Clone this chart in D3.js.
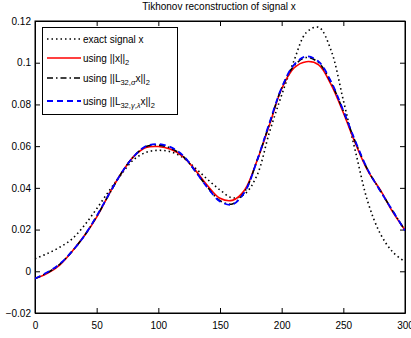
<!DOCTYPE html>
<meta charset="utf-8">
<html lang="en">
<head>
<title>Tikhonov reconstruction</title>
<script src="https://d3js.org/d3.v7.min.js"></script>
<style>
  body { margin: 0; background: #fff; }
  text { font-family: "Liberation Sans", Arial, sans-serif; fill: #000; }
</style>
</head>
<body>
<svg width="411" height="338"></svg>
<script>

// sample positions (signal index) and the four curves
var tIndex = [0, 10, 20, 30, 40, 50, 60, 70, 80, 90, 100, 110, 120, 130, 140, 150,
  160, 170, 180, 190, 200, 210, 220, 230, 240, 250, 260, 270, 280, 290, 300]

var exactSignal = [0.006, 0.0085, 0.0115, 0.0155, 0.022, 0.030, 0.0385, 0.0465, 0.0535, 0.057, 0.058,
  0.0573, 0.0545, 0.0495, 0.044, 0.039, 0.0352, 0.037, 0.046, 0.0665, 0.0845, 0.101, 0.1145,
  0.117, 0.106, 0.082, 0.057, 0.033, 0.018, 0.0093, 0.0045]

var usingNorm = [-0.0035, -0.001, 0.003, 0.0095, 0.017, 0.026, 0.037, 0.047, 0.055, 0.0593, 0.0598,
  0.0585, 0.055, 0.0485, 0.041, 0.035, 0.034, 0.039, 0.053, 0.070, 0.0875, 0.0975, 0.1005,
  0.099, 0.0896, 0.076, 0.061, 0.048, 0.039, 0.0285, 0.0198]

var usingSigma = [-0.0035, -0.0007, 0.0033, 0.0095, 0.017, 0.0263, 0.0368, 0.047, 0.055, 0.0598, 0.0605,
  0.059, 0.0552, 0.048, 0.0402, 0.0338, 0.0323, 0.0382, 0.053, 0.0705, 0.0878, 0.0985, 0.1025,
  0.100, 0.0905, 0.0768, 0.0617, 0.0484, 0.0386, 0.029, 0.0196]

var usingGamma = [-0.0035, -0.0005, 0.0035, 0.0095, 0.017, 0.0265, 0.037, 0.047, 0.055, 0.060, 0.061,
  0.0595, 0.0555, 0.048, 0.040, 0.0335, 0.032, 0.038, 0.053, 0.071, 0.088, 0.099, 0.103,
  0.1005, 0.091, 0.077, 0.062, 0.0485, 0.0385, 0.029, 0.0195]

var xTicks = [0, 50, 100, 150, 200, 250, 300]
var yTicks = [-0.02, 0, 0.02, 0.04, 0.06, 0.08, 0.1, 0.12]

var margin = { left: 35, right: 6, top: 21, bottom: 25 }
var width = 411, height = 338

var svg = d3.select('svg')

var x = d3.scaleLinear().domain([0, 300]).range([margin.left, width - margin.right])
var y = d3.scaleLinear().domain([-0.02, 0.12]).range([height - margin.bottom, margin.top])

// axes: ticks point inward, labels only on bottom / left
var xAxis = svg.append('g')
  .attr('transform', 'translate(0,' + y(-0.02) + ')')
  .call(d3.axisBottom(x).tickValues(xTicks).tickSizeInner(-5).tickSizeOuter(0).tickPadding(9)
    .tickFormat(d3.format('d')))
var yAxis = svg.append('g')
  .attr('transform', 'translate(' + x(0) + ',0)')
  .call(d3.axisLeft(y).tickValues(yTicks).tickSizeInner(-5).tickSizeOuter(0).tickPadding(4)
    .tickFormat(function (d) { return d === 0 ? '0' : d3.format('.2~f')(d) }))
svg.append('g')
  .attr('transform', 'translate(0,' + y(0.12) + ')')
  .call(d3.axisTop(x).tickValues(xTicks).tickSizeInner(-5).tickSizeOuter(0).tickFormat(''))
svg.append('g')
  .attr('transform', 'translate(' + x(300) + ',0)')
  .call(d3.axisRight(y).tickValues(yTicks).tickSizeInner(-5).tickSizeOuter(0).tickFormat(''))

svg.selectAll('.domain').attr('stroke', '#000')
svg.selectAll('.tick line').attr('stroke', '#000')
svg.selectAll('.tick text').attr('font-size', 10).attr('font-family', '"Liberation Sans", Arial, sans-serif')

svg.append('rect')
  .attr('x', x(0)).attr('y', y(0.12))
  .attr('width', x(300) - x(0)).attr('height', y(-0.02) - y(0.12))
  .attr('fill', 'none').attr('stroke', '#000').attr('stroke-width', 1)

svg.append('text')
  .attr('x', 219).attr('y', 10)
  .attr('text-anchor', 'middle')
  .attr('font-size', 10)
  .text('Tikhonov reconstruction of signal x')

var clip = svg.append('clipPath').attr('id', 'plotClip')
  .append('rect')
  .attr('x', x(0)).attr('y', y(0.12))
  .attr('width', x(300) - x(0)).attr('height', y(-0.02) - y(0.12))

var series = [
  { name: 'exact', values: exactSignal, color: '#000', dash: '1.5,3', w: 1.6 },
  { name: 'norm', values: usingNorm, color: '#ff0000', dash: null, w: 1.6 },
  { name: 'sigma', values: usingSigma, color: '#000', dash: '6,3,1.5,3', w: 1.6 },
  { name: 'gamma', values: usingGamma, color: '#0000ff', dash: '6,4', w: 1.8 }
]

var line = d3.line()
  .x(function (d) { return x(d[0]) })
  .y(function (d) { return y(d[1]) })
  .curve(d3.curveCatmullRom)

svg.append('g').attr('clip-path', 'url(#plotClip)')
  .selectAll('path')
  .data(series)
  .enter().append('path')
    .attr('d', function (s) { return line(tIndex.map(function (t, i) { return [t, s.values[i]] })) })
    .attr('fill', 'none')
    .attr('stroke', function (s) { return s.color })
    .attr('stroke-width', function (s) { return s.w })
    .attr('stroke-dasharray', function (s) { return s.dash })

// legend
var legend = svg.append('g')
legend.append('rect')
  .attr('x', 42.5).attr('y', 27.5).attr('width', 135).attr('height', 87)
  .attr('fill', '#fff').attr('stroke', '#000')

var legendRows = [
  { s: series[0], y: 39, parts: [['exact signal x', 0]] },
  { s: series[1], y: 58, parts: [['using ||x||', 0], ['2', 1]] },
  { s: series[2], y: 78, parts: [['using ||L', 0], ['32,', 1], ['σ', 2], ['x||', 0], ['2', 1]] },
  { s: series[3], y: 101, parts: [['using ||L', 0], ['32,', 1], ['γ', 2], [',', 1], ['λ', 2], ['x||', 0], ['2', 1]] }
]

legendRows.forEach(function (row) {
  legend.append('line')
    .attr('x1', 47).attr('x2', 81).attr('y1', row.y).attr('y2', row.y)
    .attr('stroke', row.s.color)
    .attr('stroke-width', row.s.w)
    .attr('stroke-dasharray', row.s.dash)
  var txt = legend.append('text')
    .attr('x', 83).attr('y', row.y + 4)
    .attr('font-size', 10)
  var shift = 0
  row.parts.forEach(function (p) {
    var target = p[1] ? 3 : 0
    var ts = txt.append('tspan')
      .attr('dy', target - shift)
      .attr('font-size', p[1] ? 7.5 : 10)
      .text(p[0])
    if (p[1] === 2) ts.attr('font-style', 'italic')
    shift = target
  })
})

</script>
</body>
</html>
